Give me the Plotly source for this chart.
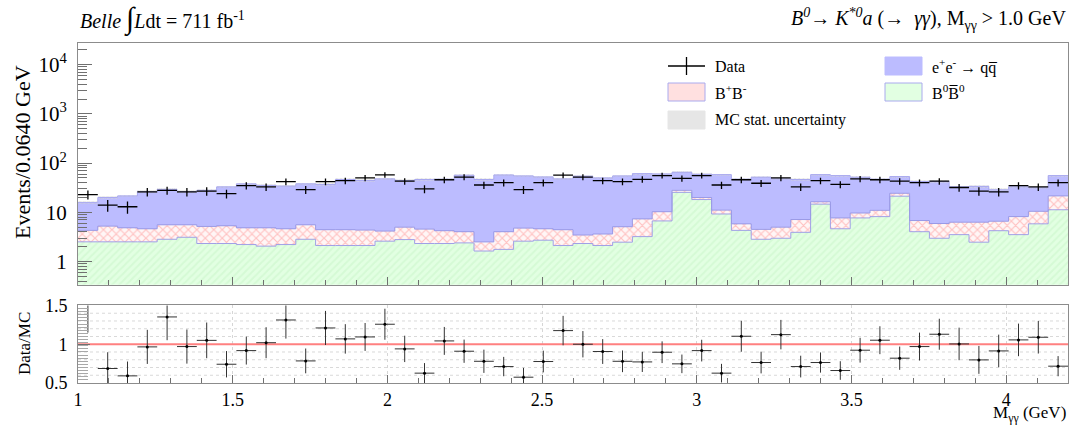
import numpy as np
import plotly.graph_objects as go

# ---------------- data ----------------
bin_width = 0.064
bin_lo = 1.0
n_bins = 50

data_counts = [23, 14, 13, 26, 28, 26, 27, 24, 35, 33, 42, 29, 42, 44,
               50, 58, 43, 30, 46, 52, 36, 40, 29, 40, 57, 52, 44, 42, 47, 56, 49, 56, 36,
               46, 39, 50, 33, 44, 37, 48, 46, 43, 40, 43, 32, 27, 26, 35, 33, 40]

# stacked levels (cumulative)
level_b0b0 = [2.52, 2.52, 2.52, 2.52, 2.84, 3.12, 2.33, 2.33, 2.22, 2.06, 2.22, 2.84, 2.12, 2.12,
              2.12, 2.6, 2.8, 2.33, 2.33, 2.4, 1.64, 1.77, 2.6, 2.72, 2.12, 2.33, 2.12, 2.48, 3.22, 6.7, 25.5, 18.2, 9.27,
              4.31, 2.84, 2.98, 3.93, 14.7, 4.64, 7.71, 8.2, 21.3, 4.05, 2.98, 3.53, 2.48, 4.24, 3.53, 5.85, 11.3]
level_bpbm = [4.31, 5.25, 4.86, 4.64, 5.59, 5.59, 5.18, 5.34, 4.86, 4.86, 4.64, 5.59, 4.44, 4.44,
              4.37, 4.17, 5.0, 4.57, 4.24, 4.05, 2.51, 4.05, 4.79, 4.64, 4.44, 3.47, 3.63, 5.1, 7.37, 10.3, 28.0, 20.0, 11.1,
              5.85, 4.51, 5.0, 7.15, 16.4, 7.71, 9.7, 11.0, 24.4, 6.82, 5.94, 6.31, 6.31, 6.6, 8.2, 10.5, 21.6]
level_total = [15.8, 20.0, 21.6, 26.3, 29.3, 26.3, 28.0, 33.0, 38.0, 35.3, 34.2, 38.0, 36.9, 46.5,
               44.4, 47.9, 44.4, 46.5, 47.2, 56.8, 46.5, 57.5, 55.0, 52.5, 47.9, 54.2, 50.1, 55.0, 61.3, 60.3, 65.2, 59.4, 58.5,
               47.2, 51.8, 47.9, 46.5, 58.5, 55.9, 51.8, 47.2, 53.4, 42.4, 42.4, 33.1, 33.7, 28.8, 33.1, 31.6, 55.9]
mc_rel_unc = [0.07, 0.06, 0.06, 0.06, 0.07, 0.06, 0.06, 0.06, 0.05, 0.06, 0.06, 0.05, 0.06, 0.05,
              0.05, 0.05, 0.06, 0.05, 0.05, 0.05, 0.06, 0.05, 0.05, 0.05, 0.06, 0.05, 0.05, 0.05, 0.05, 0.05, 0.05, 0.05, 0.05,
              0.05, 0.05, 0.05, 0.06, 0.05, 0.05, 0.05, 0.05, 0.05, 0.06, 0.06, 0.06, 0.06, 0.07, 0.06, 0.06, 0.05]

ratio_vals = [1.55, 0.687, 0.592, 0.966, 1.352, 0.97, 1.05, 0.742, 0.918, 1.02, 1.313, 0.785, 1.21, 1.069,
              1.094, 1.258, 0.94, 0.627, 1.043, 0.91, 0.78, 0.712, 0.575, 0.777, 1.176, 1.0, 0.906, 0.78, 0.772, 0.897, 0.747, 0.918, 0.627,
              1.103, 0.764, 1.124, 0.712, 0.764, 0.661, 0.923, 1.052, 0.82, 0.97, 1.129, 1.004, 0.798, 0.914, 1.056, 1.09, 0.717]
ratio_errs = [0.40, 0.21, 0.185, 0.22, 0.30, 0.22, 0.23, 0.17, 0.18, 0.2, 0.24, 0.16, 0.22, 0.19,
              0.18, 0.2, 0.17, 0.13, 0.18, 0.15, 0.15, 0.125, 0.12, 0.14, 0.19, 0.17, 0.16, 0.14, 0.13, 0.14, 0.12, 0.14, 0.12,
              0.2, 0.14, 0.19, 0.14, 0.13, 0.12, 0.16, 0.18, 0.15, 0.18, 0.2, 0.21, 0.18, 0.21, 0.21, 0.21, 0.13]

y_tickvals = [1, 10, 100, 1000, 10000]
y_ticktext = ["1", "10", "10<sup>2</sup>", "10<sup>3</sup>", "10<sup>4</sup>"]
x_tickvals = [1, 1.5, 2, 2.5, 3, 3.5, 4]
x_ticktext = ["1", "1.5", "2", "2.5", "3", "3.5", "4"]
r_tickvals = [0.5, 1.0, 1.5]
r_ticktext = ["0.5", "1", "1.5"]
r_gridvals = [0.6, 0.7, 0.8, 0.9, 1.1, 1.2, 1.3, 1.4]

# ---------------- derived ----------------
edges = bin_lo + bin_width * np.arange(n_bins + 1)
centers = edges[:-1] + bin_width / 2
g = np.array(level_b0b0)
r = np.array(level_bpbm)
t = np.array(level_total)
d = np.array(data_counts, dtype=float)
u = t * np.array(mc_rel_unc)
log_minor = [k * 10.0 ** e for e in range(-1, 5) for k in range(2, 10)]

FONT = "Liberation Serif"
AX = "#8c8c8c"
TK = "#707070"

fig = go.Figure()

# e+e- -> qq (blue)
fig.add_trace(go.Bar(x=centers, y=t - r, base=r, width=bin_width, xaxis="x", yaxis="y",
                     marker=dict(color="#bcbcff", line=dict(width=0)), showlegend=False))
# B+B- (red crosshatch)
fig.add_trace(go.Bar(x=centers, y=r - g, base=g, width=bin_width, xaxis="x", yaxis="y",
                     marker=dict(color="white", line=dict(width=0),
                                 pattern=dict(shape="x", fgcolor="#ff8c8c", bgcolor="#fff6f6",
                                              size=6, solidity=0.35)),
                     showlegend=False))
# B0B0 (green hatch)
fig.add_trace(go.Bar(x=centers, y=g - 0.2, base=0.2, width=bin_width, xaxis="x", yaxis="y",
                     marker=dict(color="#e2ffe2", line=dict(width=0),
                                 pattern=dict(shape="/", fgcolor="#c8f5c8", bgcolor="#e2ffe2",
                                              size=5, solidity=0.4)),
                     showlegend=False))
# MC stat uncertainty (grey hatch)
fig.add_trace(go.Bar(x=centers, y=2 * u, base=t - u, width=bin_width, xaxis="x", yaxis="y",
                     marker=dict(color="rgba(0,0,0,0)", line=dict(width=0),
                                 pattern=dict(shape="x", fgcolor="rgba(150,150,150,0.55)",
                                              bgcolor="rgba(220,220,220,0.35)", size=3, solidity=0.3)),
                     showlegend=False))

# step outlines
for lev, col in [(g, "#a0a0e6"), (r, "#9a9ae6"), (t, "#a8a8f0")]:
    fig.add_trace(go.Scatter(x=edges, y=np.append(lev, lev[-1]), mode="lines", line_shape="hv",
                             line=dict(color=col, width=1), xaxis="x", yaxis="y",
                             hoverinfo="skip", showlegend=False))

# data
fig.add_trace(go.Scatter(x=centers, y=d, mode="markers", xaxis="x", yaxis="y",
                         marker=dict(size=1, color="black"),
                         error_x=dict(type="constant", value=bin_width / 2, color="black", thickness=1.3, width=0),
                         error_y=dict(type="data", array=np.sqrt(d), color="black", thickness=1.3, width=0),
                         showlegend=False))

# ratio
fig.add_trace(go.Scatter(x=[bin_lo, edges[-1]], y=[1, 1], mode="lines", xaxis="x2", yaxis="y2",
                         line=dict(color="#ff8080", width=2), showlegend=False, hoverinfo="skip"))
fig.add_trace(go.Scatter(x=centers, y=ratio_vals, mode="markers", xaxis="x2", yaxis="y2",
                         marker=dict(size=3, color="black"),
                         error_x=dict(type="constant", value=bin_width / 2, color="#333", thickness=1, width=0),
                         error_y=dict(type="data", array=ratio_errs, color="#333", thickness=1, width=0),
                         showlegend=False))

top_dom = [0.289, 1.0]
bot_dom = [0.0, 0.228]

common_x = dict(range=[bin_lo, edges[-1]], showline=True, linecolor=AX, linewidth=1, mirror=True,
                ticks="inside", ticklen=8, tickwidth=1.2, tickcolor=TK,
                tickvals=x_tickvals, ticktext=x_ticktext,
                minor=dict(ticks="inside", ticklen=5, tickwidth=1.2, tickcolor=TK,
                           tickvals=list(np.round(np.arange(1.1, 4.2, 0.1), 3))),
                zeroline=False)

fig.update_layout(
    width=1076, height=428,
    margin=dict(l=78, r=8, t=43, b=45),
    paper_bgcolor="white", plot_bgcolor="white",
    barmode="overlay", bargap=0,
    font=dict(family=FONT, color="black"),
    xaxis=dict(common_x, domain=[0, 1], anchor="y", showticklabels=False, showgrid=False),
    yaxis=dict(type="log", range=[-0.47, 4.44], domain=top_dom, anchor="x",
               showline=True, linecolor=AX, linewidth=1, mirror=True,
               ticks="inside", ticklen=14, tickwidth=1.2, tickcolor=TK,
               tickvals=y_tickvals, ticktext=y_ticktext, ticklabelstandoff=6,
               tickfont=dict(size=21, family=FONT),
               minor=dict(tickvals=log_minor, ticks="inside", ticklen=9, tickwidth=1.2,
                          tickcolor=TK, showgrid=False),
               showgrid=False, zeroline=False),
    xaxis2=dict(common_x, domain=[0, 1], anchor="y2", showticklabels=True,
                tickfont=dict(size=18, family=FONT),
                showgrid=True, gridcolor="#d6d6d6", griddash="dot", gridwidth=1),
    yaxis2=dict(range=[0.5, 1.5], domain=bot_dom, anchor="x2",
                showline=True, linecolor=AX, linewidth=1, mirror=True,
                ticks="inside", ticklen=12, tickwidth=1.2, tickcolor=TK,
                tickvals=r_tickvals, ticktext=r_ticktext, ticklabelstandoff=6,
                tickfont=dict(size=18, family=FONT),
                minor=dict(ticks="inside", ticklen=10, tickwidth=1, tickcolor="#a8a8a8",
                           tickvals=list(np.round(np.arange(0.54, 1.5, 0.04), 3)), showgrid=False),
                showgrid=False, zeroline=False),
)

# ---------- texts ----------
W0, W1 = 78, 1068
H_top, H_bot = 43, 383

def px(xp):
    return (xp - W0) / (W1 - W0)

def py(yp):
    return (H_bot - yp) / (H_bot - H_top)

shapes = []
# horizontal dotted grid in ratio panel
for v in r_gridvals:
    shapes.append(dict(type="line", layer="below", xref="x2 domain", yref="y2", x0=0, x1=1, y0=v, y1=v,
                       line=dict(color="#d9d9d9", width=1, dash="dot")))

ann = []
ann.append(dict(x=px(78), y=py(19), xref="paper", yref="paper", xanchor="left", yanchor="middle",
                showarrow=False, font=dict(size=20, family=FONT),
                text="<i>Belle</i> <span style='font-size:30px'>∫</span><i>L</i>dt = 711 fb<sup>-1</sup>"))
ann.append(dict(x=px(1068), y=py(19), xref="paper", yref="paper", xanchor="right", yanchor="middle",
                showarrow=False, font=dict(size=20, family=FONT),
                text="<i>B<sup>0</sup></i>→ <i>K<sup>*0</sup>a</i> (→  <i>γγ</i>), M<sub>γγ</sub> > 1.0 GeV"))
ann.append(dict(x=px(22), y=py(152), xref="paper", yref="paper", xanchor="center", yanchor="middle",
                textangle=-90, showarrow=False, font=dict(size=22, family=FONT),
                text="Events/0.0640 GeV"))
ann.append(dict(x=px(24), y=py(344), xref="paper", yref="paper", xanchor="center", yanchor="middle",
                textangle=-90, showarrow=False, font=dict(size=17, family=FONT),
                text="Data/MC"))
ann.append(dict(x=px(1068), y=py(414), xref="paper", yref="paper", xanchor="right", yanchor="middle",
                showarrow=False, font=dict(size=17, family=FONT),
                text="M<sub>γγ</sub> (GeV)"))

# legend
leg_items = [
    (668, 66, "Data", None),
    (885, 66, "e<sup>+</sup>e<sup>-</sup> → qq\u0305", ("#bcbcff", "#bcbcff")),
    (668, 92, "B<sup>+</sup>B<sup>-</sup>", ("#ffe0e0", "#aaaaee")),
    (885, 92, "B<sup>0</sup>B\u0305<sup>0</sup>", ("#e2ffe2", "#aaaaee")),
    (668, 120, "MC stat. uncertainty", ("#e6e6e6", "#e6e6e6")),
]
for (x0, yc, label, style) in leg_items:
    if style is None:
        shapes.append(dict(type="line", xref="paper", yref="paper", x0=px(x0), x1=px(x0 + 37),
                           y0=py(yc), y1=py(yc), line=dict(color="black", width=1.3)))
        shapes.append(dict(type="line", xref="paper", yref="paper", x0=px(x0 + 18.5), x1=px(x0 + 18.5),
                           y0=py(yc - 9), y1=py(yc + 9), line=dict(color="black", width=1.3)))
    else:
        shapes.append(dict(type="rect", xref="paper", yref="paper", x0=px(x0), x1=px(x0 + 37),
                           y0=py(yc + 9), y1=py(yc - 9), fillcolor=style[0], opacity=1,
                           line=dict(color=style[1], width=1)))
    ann.append(dict(x=px(x0 + 45), y=py(yc), xref="paper", yref="paper", xanchor="left",
                    yanchor="middle", showarrow=False, font=dict(size=16, family=FONT), text=label))

fig.update_layout(annotations=ann, shapes=shapes)
fig.write_html("out.html")
